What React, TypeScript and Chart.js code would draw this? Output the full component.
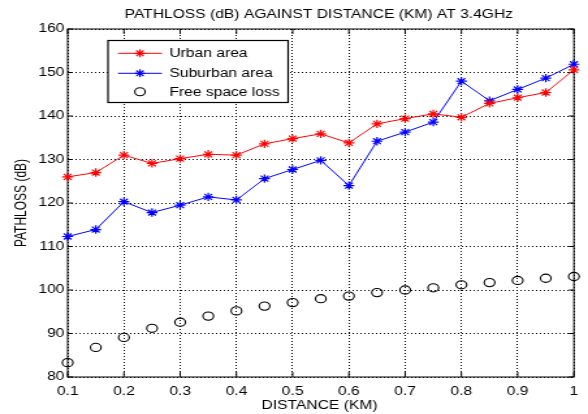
import { useEffect, useRef } from "react";
import { Chart, registerables } from "chart.js";

Chart.register(...registerables);

const distances = [0.1, 0.15, 0.2, 0.25, 0.3, 0.35, 0.4, 0.45, 0.5, 0.55, 0.6, 0.65, 0.7, 0.75, 0.8, 0.85, 0.9, 0.95, 1.0];
const urbanArea = [126.0, 127.0, 131.0, 129.1, 130.2, 131.2, 131.0, 133.6, 134.8, 135.9, 133.8, 138.2, 139.4, 140.5, 139.7, 142.9, 144.2, 145.4, 150.6];
const suburbanArea = [112.3, 113.9, 120.3, 117.8, 119.5, 121.4, 120.7, 125.6, 127.7, 129.8, 124.0, 134.2, 136.3, 138.6, 148.0, 143.5, 146.1, 148.7, 151.9];
const freeSpaceLoss = [83.3, 86.8, 89.1, 91.2, 92.6, 94.0, 95.2, 96.3, 97.1, 98.0, 98.6, 99.4, 100.0, 100.5, 101.2, 101.7, 102.2, 102.7, 103.1];

const legendLabels = ["Urban area", "Suburban area", "Free space loss"];
const titleText = "PATHLOSS (dB) AGAINST DISTANCE (KM) AT 3.4GHz";
const xAxisTitle = "DISTANCE (KM)";
const yAxisTitle = "PATHLOSS (dB)";

const X_MIN = 0.1;
const X_MAX = 1;
const X_STEP = 0.1;
const Y_MIN = 80;
const Y_MAX = 160;
const Y_STEP = 10;

const OUT_W = 588;
const OUT_H = 414;
const W = 452;
const H = 414;
const FONT = "'Liberation Sans', Arial, Helvetica, sans-serif";
const FS = 12;

function drawStar(ctx: CanvasRenderingContext2D, x: number, y: number, r: number) {
  ctx.beginPath();
  for (let k = 0; k < 4; k++) {
    const a = (k * Math.PI) / 4;
    const dx = Math.cos(a) * r;
    const dy = Math.sin(a) * r;
    ctx.moveTo(x - dx, y - dy);
    ctx.lineTo(x + dx, y + dy);
  }
  ctx.stroke();
}

const framePlugin = {
  id: "matlabFrame",
  beforeDatasetsDraw(chart: any) {
    const { ctx, chartArea: a, scales } = chart;
    const xs = scales.x;
    const ys = scales.y;
    ctx.save();
    ctx.strokeStyle = "#000";
    ctx.lineWidth = 1;
    ctx.strokeRect(a.left, a.top, a.right - a.left, a.bottom - a.top);
    ctx.beginPath();
    xs.ticks.forEach((t: any) => {
      const px = xs.getPixelForValue(t.value);
      ctx.moveTo(px, a.bottom);
      ctx.lineTo(px, a.bottom - 5);
      ctx.moveTo(px, a.top);
      ctx.lineTo(px, a.top + 5);
    });
    ys.ticks.forEach((t: any) => {
      const py = ys.getPixelForValue(t.value);
      ctx.moveTo(a.left, py);
      ctx.lineTo(a.left + 4, py);
      ctx.moveTo(a.right, py);
      ctx.lineTo(a.right - 4, py);
    });
    ctx.stroke();
    ctx.restore();
  },
  afterDraw(chart: any) {
    const { ctx, chartArea: a } = chart;
    ctx.save();
    ctx.fillStyle = "#000";
    ctx.font = `${FS}px ${FONT}`;
    ctx.textAlign = "center";
    ctx.textBaseline = "alphabetic";
    const cx = (a.left + a.right) / 2;
    ctx.fillText(titleText, cx - 1.5, 18);
    ctx.fillText(xAxisTitle, cx - 1, 409);
    ctx.save();
    ctx.translate(16.5, (a.top + a.bottom) / 2);
    ctx.rotate(-Math.PI / 2);
    ctx.textBaseline = "middle";
    ctx.fillText(yAxisTitle, 0, 0);
    ctx.restore();

    // legend
    const bx = 83;
    const by = 40.5;
    const bw = 138.5;
    const bh = 62;
    ctx.fillStyle = "#fff";
    ctx.fillRect(bx, by, bw, bh);
    ctx.strokeStyle = "#000";
    ctx.lineWidth = 1.2;
    ctx.strokeRect(bx, by, bw, bh);
    const rows = [53.3, 73.3, 91.7];
    const colors = ["#ff0000", "#0000ff", "#000000"];
    const lx0 = 90.7;
    const lx1 = 124.5;
    const mx = (lx0 + lx1) / 2;
    rows.forEach((ry, i) => {
      ctx.strokeStyle = colors[i];
      ctx.lineWidth = 1;
      if (i < 2) {
        ctx.beginPath();
        ctx.moveTo(lx0, ry);
        ctx.lineTo(lx1, ry);
        ctx.stroke();
        ctx.lineWidth = 1.2;
        drawStar(ctx, mx, ry, 4);
      } else {
        ctx.lineWidth = 1.1;
        ctx.beginPath();
        ctx.arc(mx, ry, 4, 0, Math.PI * 2);
        ctx.stroke();
      }
      ctx.fillStyle = "#000";
      ctx.textAlign = "left";
      ctx.textBaseline = "middle";
      ctx.fillText(legendLabels[i], 130.2, ry + 0.5);
    });
    ctx.restore();
  },
};

export default function App() {
  const ref = useRef<HTMLCanvasElement | null>(null);

  useEffect(() => {
    if (!ref.current) return;
    const chart = new Chart(ref.current, {
      type: "line",
      data: {
        datasets: [
          {
            label: legendLabels[0],
            data: distances.map((d, i) => ({ x: d, y: urbanArea[i] })),
            borderColor: "#ff0000",
            borderWidth: 1,
            pointStyle: "star",
            pointRadius: 4.2,
            pointBorderWidth: 1.2,
            pointBorderColor: "#ff0000",
            pointBackgroundColor: "#ff0000",
            tension: 0,
            fill: false,
            clip: false,
          },
          {
            label: legendLabels[1],
            data: distances.map((d, i) => ({ x: d, y: suburbanArea[i] })),
            borderColor: "#0000ff",
            borderWidth: 1,
            pointStyle: "star",
            pointRadius: 4.2,
            pointBorderWidth: 1.2,
            pointBorderColor: "#0000ff",
            pointBackgroundColor: "#0000ff",
            tension: 0,
            fill: false,
            clip: false,
          },
          {
            label: legendLabels[2],
            data: distances.map((d, i) => ({ x: d, y: freeSpaceLoss[i] })),
            showLine: false,
            borderColor: "#000000",
            pointStyle: "circle",
            pointRadius: 4.1,
            pointBorderWidth: 1.1,
            pointBorderColor: "#000000",
            pointBackgroundColor: "rgba(0,0,0,0)",
            clip: false,
          },
        ],
      } as any,
      options: {
        animation: false,
        responsive: false,
        maintainAspectRatio: false,
        devicePixelRatio: 1,
        events: [],
        layout: { padding: { top: 29, right: 4.6, bottom: 0, left: 0 } },
        plugins: {
          legend: { display: false },
          title: { display: false },
          tooltip: { enabled: false },
        },
        scales: {
          x: {
            type: "linear",
            min: X_MIN,
            max: X_MAX,
            afterFit: (s: any) => {
              s.height = 37;
            },
            ticks: {
              stepSize: X_STEP,
              autoSkip: false,
              maxRotation: 0,
              padding: 7.5,
              color: "#000",
              font: { family: FONT, size: FS },
              callback: (v: any) => String(+Number(v).toFixed(1)),
            },
            grid: {
              color: "#000",
              lineWidth: 1,
              drawTicks: false,
            },
            border: { display: false, dash: [1, 2] },
          },
          y: {
            type: "linear",
            min: Y_MIN,
            max: Y_MAX,
            afterFit: (s: any) => {
              s.width = 52;
            },
            ticks: {
              stepSize: Y_STEP,
              autoSkip: false,
              padding: 2.5,
              color: "#000",
              font: { family: FONT, size: FS },
            },
            grid: {
              color: "#000",
              lineWidth: 1,
              drawTicks: false,
            },
            border: { display: false, dash: [1, 2] },
          },
        },
      } as any,
      plugins: [framePlugin],
    });
    return () => chart.destroy();
  }, []);

  return (
    <div
      style={{
        position: "fixed",
        left: 0,
        top: 0,
        width: OUT_W,
        height: OUT_H,
        overflow: "hidden",
        background: "#fff",
      }}
    >
      <div
        style={{
          width: W,
          height: H,
          transform: `scaleX(${OUT_W / W})`,
          transformOrigin: "0 0",
        }}
      >
        <canvas ref={ref} width={W} height={H} style={{ display: "block", width: W, height: H }} />
      </div>
    </div>
  );
}
